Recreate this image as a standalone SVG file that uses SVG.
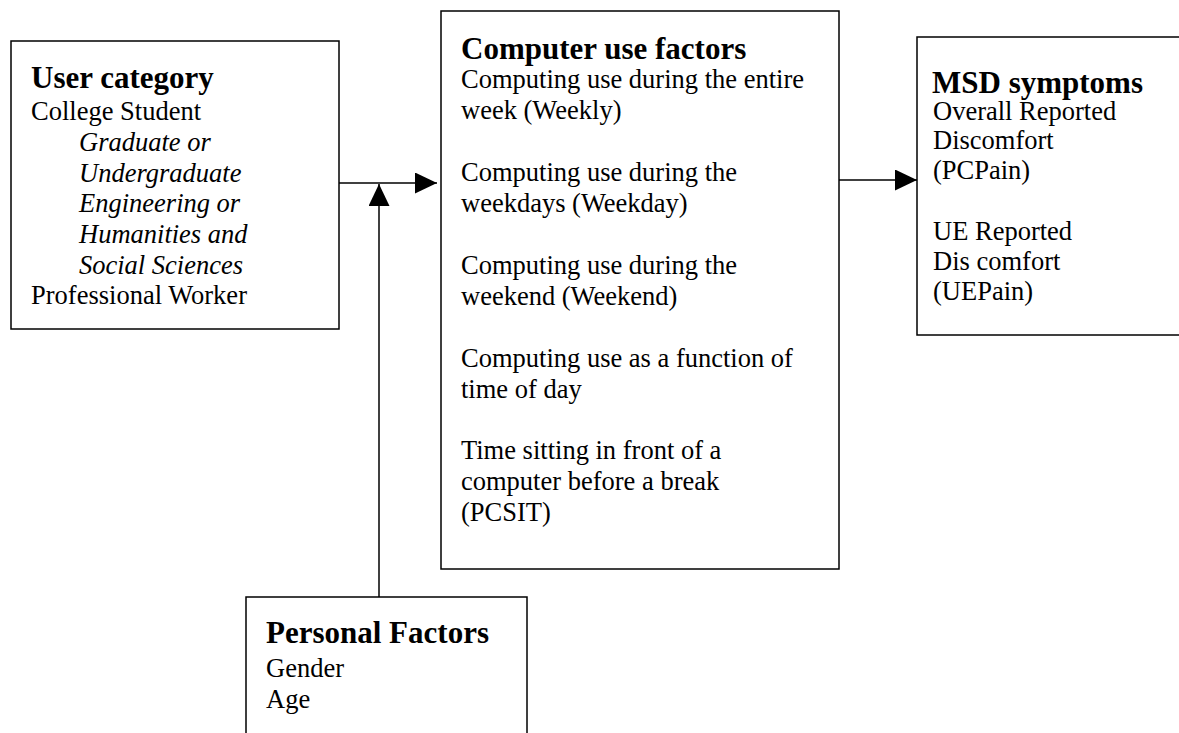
<svg xmlns="http://www.w3.org/2000/svg" width="1179" height="733" viewBox="0 0 1179 733">
<style>
.box{fill:#fff;stroke:#000;stroke-width:1.5}
.t{font-family:"Liberation Serif","Times New Roman",serif;font-size:31px;font-weight:bold;fill:#000}
.b{font-family:"Liberation Serif","Times New Roman",serif;font-size:26.5px;fill:#000}
.i{font-style:italic}
.ln{stroke:#000;stroke-width:1.5;fill:none}
</style>
<defs>
<marker id="ah" markerWidth="22" markerHeight="21" refX="22" refY="10.5" orient="auto" markerUnits="userSpaceOnUse">
<path d="M0,0 L22,10.5 L0,21 Z" fill="#000"/>
</marker>
</defs>
<rect width="1179" height="733" fill="#fff"/>
<g id="user-category">
<rect class="box" x="11" y="41" width="328" height="288"/>
<text class="t" x="31" y="88">User category</text>
<text class="b" x="31" y="120">College Student</text>
<text class="b i" x="79" y="151">Graduate or</text>
<text class="b i" x="79" y="182">Undergraduate</text>
<text class="b i" x="79" y="212">Engineering or</text>
<text class="b i" x="79" y="243">Humanities and</text>
<text class="b i" x="79" y="274">Social Sciences</text>
<text class="b" x="31" y="304">Professional Worker</text>
</g>
<g id="computer-use-factors">
<rect class="box" x="441" y="11" width="398" height="558"/>
<text class="t" x="461" y="59">Computer use factors</text>
<text class="b" x="461" y="88">Computing use during the entire</text>
<text class="b" x="461" y="119">week (Weekly)</text>
<text class="b" x="461" y="181">Computing use during the</text>
<text class="b" x="461" y="212">weekdays (Weekday)</text>
<text class="b" x="461" y="274">Computing use during the</text>
<text class="b" x="461" y="305">weekend (Weekend)</text>
<text class="b" x="461" y="367">Computing use as a function of</text>
<text class="b" x="461" y="398">time of day</text>
<text class="b" x="461" y="459">Time sitting in front of a</text>
<text class="b" x="461" y="490">computer before a break</text>
<text class="b" x="461" y="521">(PCSIT)</text>
</g>
<g id="msd-symptoms">
<rect class="box" x="917" y="37" width="270" height="298"/>
<text class="t" x="932" y="93">MSD symptoms</text>
<text class="b" x="933" y="120">Overall Reported</text>
<text class="b" x="933" y="149">Discomfort</text>
<text class="b" x="933" y="179">(PCPain)</text>
<text class="b" x="933" y="240">UE Reported</text>
<text class="b" x="933" y="270">Dis comfort</text>
<text class="b" x="933" y="300">(UEPain)</text>
</g>
<g id="personal-factors">
<rect class="box" x="246" y="597" width="281" height="150"/>
<text class="t" x="266" y="643">Personal Factors</text>
<text class="b" x="266" y="677">Gender</text>
<text class="b" x="266" y="708">Age</text>
</g>
<g id="connectors">
<line class="ln" x1="339" y1="183" x2="437" y2="183" marker-end="url(#ah)"/>
<line class="ln" x1="379" y1="597" x2="379" y2="184" marker-end="url(#ah)"/>
<line class="ln" x1="839" y1="180" x2="917" y2="180" marker-end="url(#ah)"/>
</g>
</svg>
